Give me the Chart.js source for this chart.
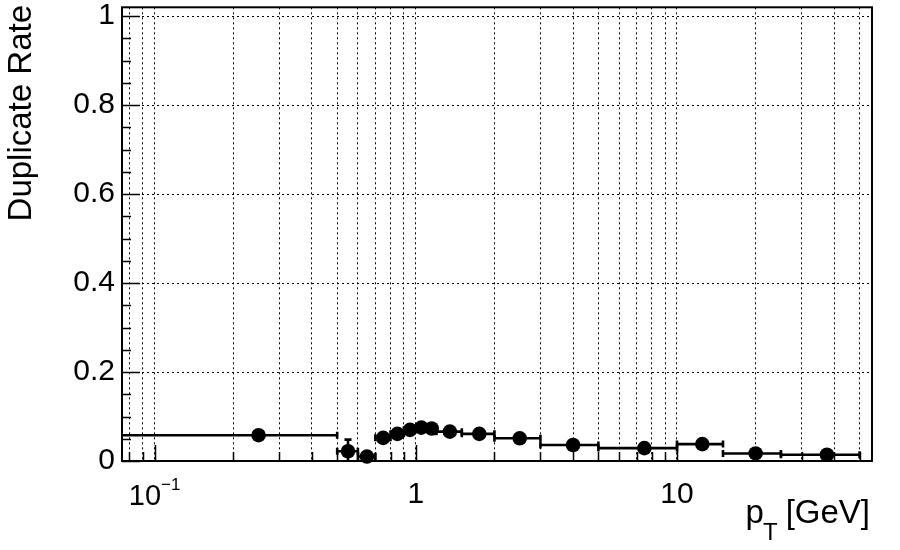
<!DOCTYPE html>
<html><head><meta charset="utf-8">
<style>html,body{margin:0;padding:0;background:#fff}#wrap{width:900px;height:550px;position:relative}</style>
<script src="https://cdn.jsdelivr.net/npm/chart.js@4.4.1/dist/chart.umd.min.js"></script>
</head><body><div id="wrap"><canvas id="c" width="900" height="550"></canvas></div>
<script>
// ---- data ----
const binLow    = [0,    0.5,  0.6,  0.7,  0.8,  0.9,  1.0,  1.1,  1.2,  1.5,  2,    3,    5,    10,   15,   25];
const binHigh   = [0.5,  0.6,  0.7,  0.8,  0.9,  1.0,  1.1,  1.2,  1.5,  2,    3,    5,    10,   15,   25,   50];
const binCenter = [0.25, 0.55, 0.65, 0.75, 0.85, 0.95, 1.05, 1.15, 1.35, 1.75, 2.5,  4,    7.5,  12.5, 20,   37.5];
const duplicateRate = [0.058, 0.022, 0.010, 0.052, 0.061, 0.070, 0.075, 0.073, 0.066, 0.061, 0.051, 0.036, 0.029, 0.038, 0.017, 0.014];
const rateError     = [0.004, 0.026, 0.010, 0.008, 0.007, 0.006, 0.006, 0.006, 0.005, 0.004, 0.004, 0.004, 0.004, 0.008, 0.004, 0.005];

const xTickValues  = [0.08, 0.09, 0.1, 0.2, 0.3, 0.4, 0.5, 0.6, 0.7, 0.8, 0.9, 1, 2, 3, 4, 5, 6, 7, 8, 9, 10, 20, 30, 40, 50];
const xMajorValues = [0.1, 1, 10];
const xLabels      = {1: '1', 10: '10'};
const yTickValues  = [0, 0.2, 0.4, 0.6, 0.8, 1];
const yMinorValues = [0.05, 0.1, 0.15, 0.25, 0.3, 0.35, 0.45, 0.5, 0.55, 0.65, 0.7, 0.75, 0.85, 0.9, 0.95];
const yTitle = 'Duplicate Rate';
const xTitleMain = 'p', xTitleSub = 'T', xTitleUnit = '[GeV]';

const FONT = '"Liberation Sans", Arial, Helvetica, sans-serif';

const rootPlugin = {
  id: 'rootStyle',
  beforeDatasetsDraw(chart) {
    const {ctx, chartArea: a, scales: {x, y}} = chart;
    ctx.save();
    ctx.beginPath(); ctx.rect(a.left, a.top, a.right - a.left, a.bottom - a.top); ctx.clip();
    ctx.strokeStyle = '#000'; ctx.lineWidth = 2.6;
    const cap = 3.5;
    for (let i = 0; i < binCenter.length; i++) {
      const py = y.getPixelForValue(duplicateRate[i]);
      const xl = binLow[i] > 0 ? x.getPixelForValue(binLow[i]) : a.left - 5;
      const xh = x.getPixelForValue(binHigh[i]);
      ctx.beginPath(); ctx.moveTo(xl, py); ctx.lineTo(xh, py); ctx.stroke();
      ctx.beginPath();
      ctx.moveTo(xl, py - cap); ctx.lineTo(xl, py + cap);
      ctx.moveTo(xh, py - cap); ctx.lineTo(xh, py + cap);
      ctx.stroke();
      const px = x.getPixelForValue(binCenter[i]);
      const yt = y.getPixelForValue(duplicateRate[i] + rateError[i]);
      const yb = y.getPixelForValue(duplicateRate[i] - rateError[i]);
      ctx.beginPath(); ctx.moveTo(px, yt); ctx.lineTo(px, yb);
      ctx.moveTo(px - cap, yt); ctx.lineTo(px + cap, yt);
      ctx.moveTo(px - cap, yb); ctx.lineTo(px + cap, yb);
      ctx.stroke();
    }
    ctx.restore();
  },
  afterDraw(chart) {
    const {ctx, chartArea: a, scales: {x, y}} = chart;
    ctx.save();
    ctx.strokeStyle = '#000';
    ctx.lineWidth = 1.5;
    // inside ticks: y axis
    for (const v of yTickValues) {
      const p = Math.round(y.getPixelForValue(v)) + 0.5;
      ctx.beginPath(); ctx.moveTo(a.left, p); ctx.lineTo(a.left + 18, p); ctx.stroke();
    }
    for (const v of yMinorValues) {
      const p = Math.round(y.getPixelForValue(v)) + 0.5;
      ctx.beginPath(); ctx.moveTo(a.left, p); ctx.lineTo(a.left + 9, p); ctx.stroke();
    }
    // inside ticks: x axis
    for (const v of xTickValues) {
      const p = Math.round(x.getPixelForValue(v)) + 0.5;
      const len = xMajorValues.includes(v) ? 16 : 9;
      ctx.beginPath(); ctx.moveTo(p, a.bottom); ctx.lineTo(p, a.bottom - len); ctx.stroke();
    }
    // frame
    ctx.lineWidth = 2;
    ctx.strokeRect(a.left, a.top, a.right - a.left, a.bottom - a.top);

    ctx.fillStyle = '#000';
    // 10^-1 label
    const px = x.getPixelForValue(0.1);
    ctx.font = '29px ' + FONT;
    const w1 = ctx.measureText('10').width;
    ctx.font = '17px ' + FONT;
    const w2 = ctx.measureText('\u22121').width;
    const start = px - (w1 + w2) / 2;
    ctx.textAlign = 'left'; ctx.textBaseline = 'alphabetic';
    ctx.font = '29px ' + FONT;
    ctx.fillText('10', start, 505);
    ctx.font = '17px ' + FONT;
    ctx.fillText('\u22121', start + w1, 490);

    // y title
    ctx.save();
    ctx.translate(31, 5);
    ctx.rotate(-Math.PI / 2);
    ctx.font = '33px ' + FONT;
    ctx.textAlign = 'right';
    ctx.fillText(yTitle, 0, 0);
    ctx.restore();

    // x title
    ctx.font = '33px ' + FONT;
    ctx.textAlign = 'right';
    ctx.fillText(xTitleUnit, 870, 523);
    const wu = ctx.measureText(xTitleUnit).width;
    ctx.font = '24px ' + FONT;
    ctx.textAlign = 'left';
    const wt = ctx.measureText(xTitleSub).width;
    const tx = 870 - wu - 8 - wt;
    ctx.fillText(xTitleSub, tx, 540);
    ctx.font = '33px ' + FONT;
    const wp = ctx.measureText(xTitleMain).width;
    ctx.fillText(xTitleMain, tx - wp + 1, 523);
    ctx.restore();
  }
};

const zeroPad = (s) => { s.paddingTop = 0; s.paddingBottom = 0; s.paddingLeft = 0; s.paddingRight = 0; };

new Chart(document.getElementById('c'), {
  type: 'scatter',
  data: {
    datasets: [{
      data: binCenter.map((v, i) => ({x: v, y: duplicateRate[i]})),
      backgroundColor: '#000',
      borderColor: '#000',
      pointRadius: 7.3,
      pointHoverRadius: 7.3,
      borderWidth: 0,
      showLine: false,
      clip: false
    }]
  },
  options: {
    responsive: false,
    animation: false,
    events: [],
    layout: {padding: {top: 4, right: 28, left: 0, bottom: 0}},
    plugins: {legend: {display: false}, tooltip: {enabled: false}, title: {display: false}},
    scales: {
      x: {
        type: 'logarithmic',
        min: 0.075, max: 55.8,
        afterBuildTicks: (s) => { s.ticks = xTickValues.map(v => ({value: v})); },
        afterFit: (s) => { s.height = 89; zeroPad(s); },
        ticks: {
          autoSkip: false, maxRotation: 0, minRotation: 0, padding: 16,
          color: '#000', font: {family: FONT, size: 30},
          callback: (v) => xLabels[v] || ''
        },
        grid: {color: '#000', lineWidth: 1, drawTicks: false},
        border: {display: false, dash: [2, 3]}
      },
      y: {
        type: 'linear',
        min: 0, max: 1.02,
        afterBuildTicks: (s) => { s.ticks = yTickValues.map(v => ({value: v})); },
        afterFit: (s) => { s.width = 122; zeroPad(s); },
        ticks: {
          padding: 7, color: '#000', font: {family: FONT, size: 30},
          callback: (v) => (v === 0 ? '0' : v === 1 ? '1' : v.toFixed(1))
        },
        grid: {color: '#000', lineWidth: 1, drawTicks: false},
        border: {display: false, dash: [2, 3]}
      }
    }
  },
  plugins: [rootPlugin]
});
</script></body></html>
